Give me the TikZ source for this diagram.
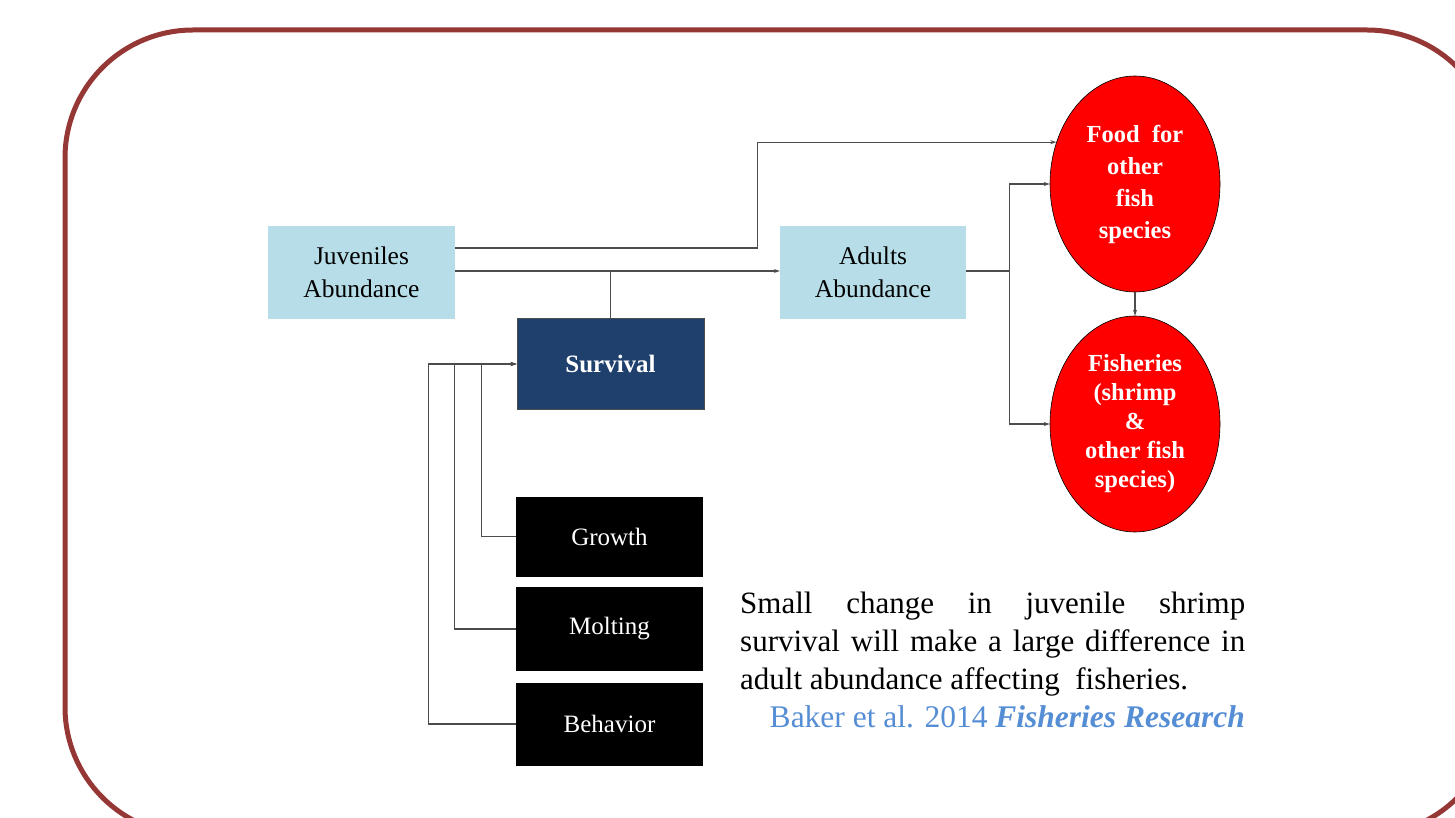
\documentclass[tikz,border=0pt]{standalone}
\usepackage{fontspec}
\setmainfont{Liberation Serif}
\usetikzlibrary{arrows.meta,shapes.geometric,calc}
\definecolor{lblue}{HTML}{B7DEE8}
\definecolor{navy}{HTML}{1F3F6D}
\definecolor{frame}{HTML}{953735}
\definecolor{cite}{HTML}{558ED5}
\begin{document}
\begin{tikzpicture}[x=1pt,y=-1pt,
  lightbox/.style={fill=lblue,minimum width=187pt,minimum height=92pt,inner sep=0pt,align=center,font=\fontsize{25.5}{33}\selectfont},
  blackbox/.style={fill=black,text=white,minimum width=187pt,inner sep=0pt,align=center,font=\fontsize{25}{30}\selectfont},
  redell/.style={ellipse,fill=red,draw=black,line width=0.6pt,minimum width=170pt,minimum height=216pt,inner sep=0pt,align=center,text=white},
  link/.style={draw=black!70,line width=1.3pt},
  conn/.style={link,-{Stealth[length=6pt,width=4pt]}},
  para/.style={inner sep=0pt,font=\fontsize{31}{37}\selectfont}]
\useasboundingbox (0,0) rectangle (1455,818);
\clip (0,0) rectangle (1455,818);
\fill[white] (0,0) rectangle (1455,818);
\draw[frame,line width=5pt,rounded corners=128pt] (65,30) rectangle (1495,835);

\node[lightbox] (juv) at (361.5,272.5) {Juveniles\\Abundance};
\node[lightbox,minimum width=186pt] (adu) at (873,272.5) {Adults\\Abundance};
\node[fill=navy,draw=black!70,line width=0.8pt,minimum width=187pt,minimum height=91pt,inner sep=0pt,text=white,font=\fontsize{25}{30}\selectfont\bfseries] (surv) at (610.5,364) {Survival};
\node[blackbox,minimum height=80pt] (grow) at (609.5,536.5) {Growth};
\node[blackbox,minimum height=84pt] (molt) at (609.5,629) {Molting};
\node[blackbox,minimum height=83pt] (behav) at (609.5,724) {Behavior};
\node[redell,font=\fontsize{24.5}{32}\selectfont\bfseries] (food) at (1135,184) {Food\ \ for\\other\\fish\\species};
\node[redell,font=\fontsize{24.5}{29}\selectfont\bfseries] (fish) at (1135,424) {Fisheries\\(shrimp\\\&\\other fish\\species)};

\draw[conn] ([yshift=24.5pt]juv.east) -- ++(302,0) |- (food.152.6);
\draw[conn] ([yshift=1.5pt]juv.east) -- ([yshift=1.5pt]adu.west);
\draw[link] (surv.north) -- ([yshift=1.5pt]surv.north |- juv.east);
\draw[link] ([yshift=1.5pt]adu.east) -- ++(43,0) coordinate (split);
\draw[conn] (split) |- (food.west);
\draw[conn] (split) |- (fish.west);
\draw[conn] (food.south) -- (fish.north);
\draw[conn] (grow.west) -- ++(-34,0) |- (surv.west);
\draw[conn] (molt.west) -- ++(-61,0) |- (surv.west);
\draw[conn] (behav.west) -- ++(-87,0) |- (surv.west);

\node[para,anchor=base west] (l1) at (740,613) {\makebox[505pt][s]{Small change in juvenile shrimp}};
\node[para,anchor=base west] (l2) at (740,651) {\makebox[505pt][s]{survival will make a large difference in}};
\node[para,anchor=base west] (l3) at (740,689) {adult abundance affecting\ \ fisheries.};
\node[para,anchor=base east,text=cite,font=\fontsize{31.5}{37}\selectfont] (l4) at (1245,727) {Baker et al. 2014 \textbf{\textit{Fisheries Research}}};
\end{tikzpicture}
\end{document}
